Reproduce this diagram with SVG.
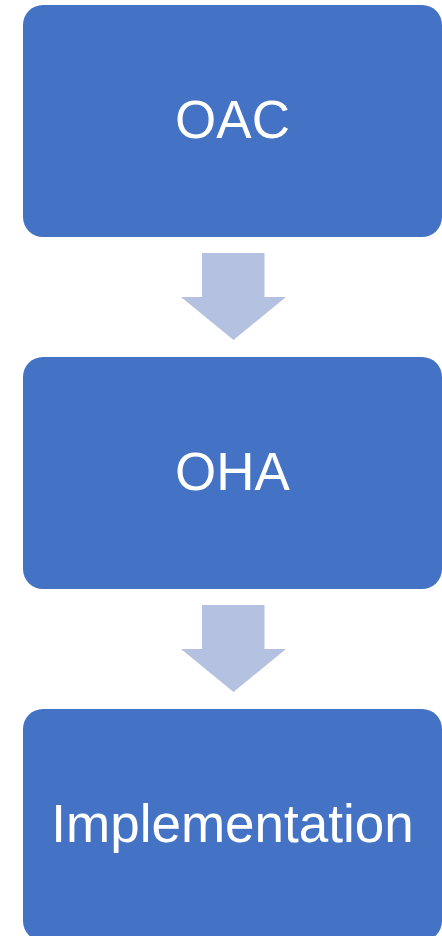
<svg xmlns="http://www.w3.org/2000/svg" width="442" height="936" viewBox="0 0 442 936">
<style>
.box{fill:#4472C4}
.arrow{fill:#B4C1E0}
.lbl{font-family:"Liberation Sans",Arial,sans-serif;font-size:53px;fill:#fff;text-anchor:middle}
</style>
<rect width="442" height="936" fill="#fff"/>
<g id="connectors">
<polygon class="arrow" points="202,253 264.5,253 264.5,297 286,297 233.5,340 181,297 202,297"/>
<polygon class="arrow" points="202,605 264.5,605 264.5,649 286,649 233.5,692 181,649 202,649"/>
</g>
<g id="oac">
<rect class="box" x="23" y="5" width="419" height="232" rx="20"/>
<text class="lbl" x="232.5" y="137.5">OAC</text>
</g>
<g id="oha">
<rect class="box" x="23" y="357" width="419" height="232" rx="20"/>
<text class="lbl" x="232.5" y="489.5">OHA</text>
</g>
<g id="implementation">
<rect class="box" x="23" y="709" width="419" height="232" rx="20"/>
<text class="lbl" x="232.5" y="841.5">Implementation</text>
</g>
</svg>
